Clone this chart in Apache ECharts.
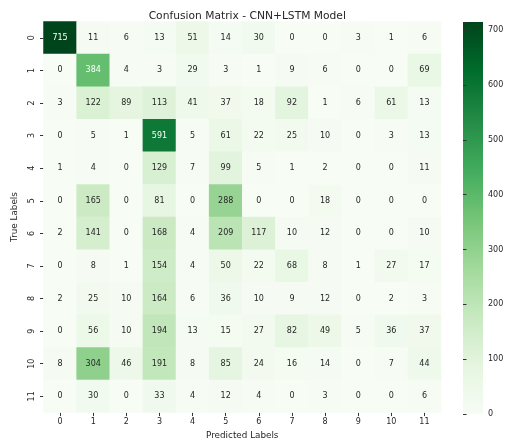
<!DOCTYPE html>
<html>
<head>
<meta charset="utf-8">
<script src="https://cdn.jsdelivr.net/npm/echarts@6/dist/echarts.min.js"></script>
<style>
  html, body { margin: 0; padding: 0; background: #fff; }
  #chart { width: 513px; height: 445px; }
</style>
</head>
<body>
<div id="chart"></div>
<script>
// Class labels shared by both axes
const classLabels = ['0', '1', '2', '3', '4', '5', '6', '7', '8', '9', '10', '11'];

// One array per true class: counts per predicted class
const row0  = [715, 11, 6, 13, 51, 14, 30, 0, 0, 3, 1, 6];
const row1  = [0, 384, 4, 3, 29, 3, 1, 9, 6, 0, 0, 69];
const row2  = [3, 122, 89, 113, 41, 37, 18, 92, 1, 6, 61, 13];
const row3  = [0, 5, 1, 591, 5, 61, 22, 25, 10, 0, 3, 13];
const row4  = [1, 4, 0, 129, 7, 99, 5, 1, 2, 0, 0, 11];
const row5  = [0, 165, 0, 81, 0, 288, 0, 0, 18, 0, 0, 0];
const row6  = [2, 141, 0, 168, 4, 209, 117, 10, 12, 0, 0, 10];
const row7  = [0, 8, 1, 154, 4, 50, 22, 68, 8, 1, 27, 17];
const row8  = [2, 25, 10, 164, 6, 36, 10, 9, 12, 0, 2, 3];
const row9  = [0, 56, 10, 194, 13, 15, 27, 82, 49, 5, 36, 37];
const row10 = [8, 304, 46, 191, 8, 85, 24, 16, 14, 0, 7, 44];
const row11 = [0, 30, 0, 33, 4, 12, 4, 0, 3, 0, 0, 6];

const matrixRows = [row0, row1, row2, row3, row4, row5, row6, row7, row8, row9, row10, row11];

// Colour bar tick values
const colorbarTicks = [0, 100, 200, 300, 400, 500, 600, 700];

// "Greens" sequential palette, light to dark
const greens = ['#f7fcf5', '#e5f5e0', '#c7e9c0', '#a1d99b', '#74c476', '#41ab5d', '#238b45', '#006d2c', '#00441b'];

let vmax = 0;
matrixRows.forEach(r => r.forEach(v => { if (v > vmax) vmax = v; }));

const cells = [];
matrixRows.forEach((r, i) => {
  r.forEach((v, j) => {
    cells.push({
      value: [j, i, v],
      label: { color: v > 350 ? '#ffffff' : '#262626' }
    });
  });
});

const FONT = 'DejaVu Sans';
const TEXT = '#262626';

// Heatmap and colour bar placement
const HM = { left: 43.5, top: 21.5, width: 397.5, height: 392.5 };
const CB = { left: 463, top: 22, width: 20, height: 392 };

const chart = echarts.init(document.getElementById('chart'), null, { renderer: 'canvas' });

chart.setOption({
  animation: false,
  backgroundColor: '#ffffff',
  title: {
    text: 'Confusion Matrix - CNN+LSTM Model',
    left: HM.left + HM.width / 2,
    top: 6,
    textAlign: 'center',
    textStyle: { fontFamily: FONT, fontSize: 10.7, fontWeight: 'normal', color: TEXT }
  },
  grid: [
    { left: HM.left, top: HM.top, width: HM.width, height: HM.height },
    { left: CB.left, top: CB.top, width: CB.width, height: CB.height }
  ],
  xAxis: [
    {
      type: 'category',
      gridIndex: 0,
      data: classLabels,
      position: 'bottom',
      axisLine: { show: false },
      axisTick: { show: true, alignWithLabel: true, length: 3.5, lineStyle: { color: '#333' } },
      axisLabel: { fontFamily: FONT, fontSize: 8, color: TEXT, margin: 5.5 },
      splitLine: { show: false },
      name: 'Predicted Labels',
      nameLocation: 'middle',
      nameGap: 22,
      nameTextStyle: { fontFamily: FONT, fontSize: 8.8, color: TEXT, verticalAlign: 'middle' }
    },
    {
      type: 'value',
      gridIndex: 1,
      show: false,
      min: 0,
      max: 1
    }
  ],
  yAxis: [
    {
      type: 'category',
      gridIndex: 0,
      data: classLabels,
      inverse: true,
      axisLine: { show: false },
      axisTick: { show: true, alignWithLabel: true, length: 3.5, lineStyle: { color: '#333' } },
      axisLabel: { fontFamily: FONT, fontSize: 8, color: TEXT, rotate: 90, margin: 8 },
      splitLine: { show: false },
      name: 'True Labels',
      nameLocation: 'middle',
      nameGap: 20,
      nameRotate: 90,
      nameTextStyle: { fontFamily: FONT, fontSize: 8.8, color: TEXT }
    },
    {
      type: 'value',
      gridIndex: 1,
      position: 'right',
      min: 0,
      max: vmax,
      interval: 100,
      axisLine: { show: false },
      axisTick: { show: true, length: 3.5, lineStyle: { color: '#333' } },
      axisLabel: {
        fontFamily: FONT, fontSize: 8, color: TEXT, margin: 5,
        formatter: v => (colorbarTicks.indexOf(v) >= 0 ? String(v) : '')
      },
      splitLine: { show: false }
    }
  ],
  visualMap: {
    type: 'continuous',
    show: false,
    seriesIndex: 0,
    min: 0,
    max: vmax,
    inRange: { color: greens }
  },
  // Colour bar gradient drawn behind the colour-bar axis
  graphic: [
    {
      type: 'rect',
      silent: true,
      shape: { x: CB.left, y: CB.top, width: CB.width, height: CB.height },
      style: {
        fill: new echarts.graphic.LinearGradient(0, 1, 0, 0,
          greens.map((c, k) => ({ offset: k / (greens.length - 1), color: c })))
      }
    }
  ],
  series: [
    {
      type: 'heatmap',
      xAxisIndex: 0,
      yAxisIndex: 0,
      data: cells,
      label: { show: true, fontFamily: FONT, fontSize: 8, formatter: p => String(p.value[2]) },
      itemStyle: { borderWidth: 0 },
      emphasis: { disabled: true }
    },
    {
      type: 'scatter',
      xAxisIndex: 1,
      yAxisIndex: 1,
      data: [],
      silent: true
    }
  ]
});
</script>
</body>
</html>
